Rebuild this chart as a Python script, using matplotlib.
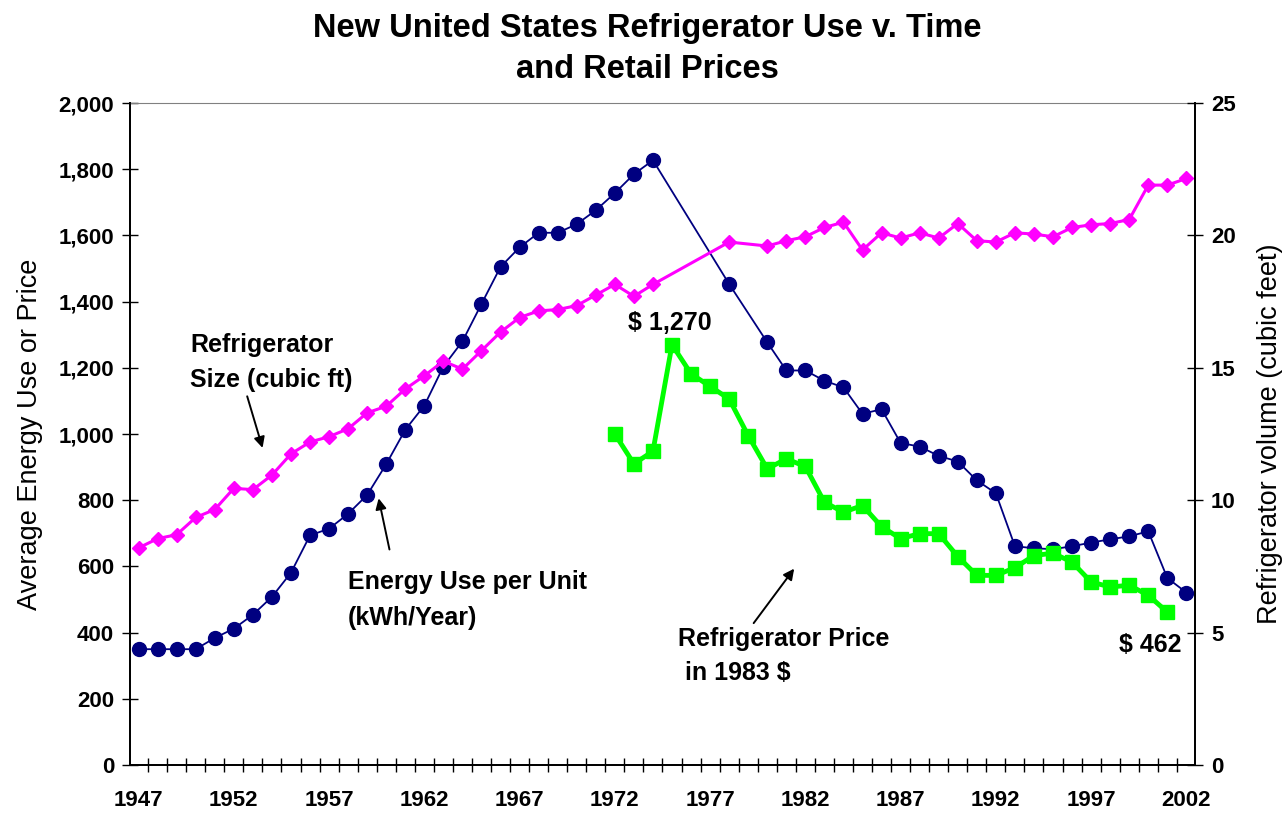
import matplotlib
matplotlib.use('Agg')
import matplotlib.pyplot as plt
from matplotlib.ticker import FuncFormatter, MultipleLocator, FixedLocator

plt.rcParams['font.family'] = ['Liberation Sans', 'DejaVu Sans']

# energy use per unit (kWh/year); 1975-77 and 1979 not reported
energy_years = list(range(1947, 1975)) + [1978] + list(range(1980, 2003))
energy_use = [350, 350, 350, 350, 384, 412, 454, 508, 581, 694,
              714, 759, 816, 909, 1013, 1086, 1204, 1280, 1393, 1505,
              1564, 1608, 1608, 1634, 1676, 1728, 1785, 1827,
              1453,
              1277, 1192, 1192, 1161, 1141, 1061, 1075, 973, 962, 934,
              917, 860, 821, 661, 655, 652, 661, 672, 682, 691,
              706, 565, 521]

# refrigerator volume (cubic feet)
size_years = energy_years
size_cuft = [8.2, 8.55, 8.7, 9.35, 9.65, 10.45, 10.4, 10.95, 11.75, 12.2,
             12.4, 12.7, 13.3, 13.55, 14.2, 14.7, 15.25, 14.95, 15.65, 16.35,
             16.9, 17.15, 17.2, 17.35, 17.75, 18.15, 17.7, 18.15,
             19.75,
             19.6, 19.8, 19.95, 20.3, 20.5, 19.45, 20.1, 19.9, 20.1, 19.9,
             20.45, 19.8, 19.75, 20.1, 20.05, 19.95, 20.3, 20.4, 20.45, 20.6,
             21.9, 21.9, 22.15]

# retail price in 1983 dollars
price_years = list(range(1972, 2002))
price = [1000, 910, 948, 1270, 1182, 1144, 1106, 995, 895, 925,
         902, 794, 764, 784, 720, 684, 699, 699, 630, 573,
         573, 596, 633, 640, 613, 553, 538, 543, 513, 462]

label_years = list(range(1947, 2003, 5))

fig = plt.figure(figsize=(12.82, 8.17), dpi=100)
ax = fig.add_axes([0.1014, 0.0636, 0.8307, 0.8103])
ax2 = ax.twinx()

ax.plot(energy_years, energy_use, color='#000080', lw=1.3, marker='o',
        markersize=10, zorder=3)
ax.plot(price_years, price, color='#00FF00', lw=3.5, marker='s',
        markersize=10.5, zorder=4)
ax2.plot(size_years, size_cuft, color='#FF00FF', lw=2.2, marker='D',
         markersize=7.5)

ax.set_xlim(1946.55, 2002.45)
ax.set_ylim(0, 2000)
ax2.set_ylim(0, 25)

ax.xaxis.set_major_locator(FixedLocator(label_years))
ax.xaxis.set_minor_locator(MultipleLocator(1, offset=0.5))
ax.tick_params(axis='x', which='major', length=0, pad=18,
               labelsize=16)
ax.tick_params(axis='x', which='minor', direction='inout', length=10,
               width=1)
for t in ax.get_xticklabels():
    t.set_fontweight('bold')

ax.yaxis.set_major_locator(MultipleLocator(200))
ax.yaxis.set_major_formatter(FuncFormatter(lambda v, p: f'{int(v):,}'))
ax.tick_params(axis='y', direction='inout', length=11, width=1, pad=6,
               labelsize=16)
for t in ax.get_yticklabels():
    t.set_fontweight('bold')

ax2.yaxis.set_major_locator(MultipleLocator(5))
ax2.tick_params(axis='y', direction='inout', length=11, width=1, pad=6,
                labelsize=16)
for t in ax2.get_yticklabels():
    t.set_fontweight('bold')

for a in (ax, ax2):
    a.spines['left'].set_linewidth(1.3)
    a.spines['right'].set_linewidth(1.3)
    a.spines['bottom'].set_linewidth(1.3)
ax.spines['top'].set_color('#808080')
ax2.spines['top'].set_visible(False)

ax.set_ylabel('Average Energy Use or Price', fontsize=19.5, labelpad=11)
ax2.set_ylabel('Refrigerator volume (cubic feet)', fontsize=19.5,
               labelpad=15)

fig.text(0.505, 1 - 49 / 817, 'New United States Refrigerator Use v. Time\nand Retail Prices',
         ha='center', va='center', fontsize=23.5, fontweight='bold',
         linespacing=1.42)

arrow = dict(arrowstyle='-|>', color='black', lw=1.4, mutation_scale=16)
ax.annotate('', xy=(1953.55, 950), xytext=(1952.66, 1122), arrowprops=arrow)
ax.text(1949.7, 1216, 'Refrigerator\nSize (cubic ft)', ha='left', va='center',
        fontsize=18, fontweight='bold', linespacing=1.6)

ax.annotate('', xy=(1959.57, 814), xytext=(1960.2, 643), arrowprops=arrow)
ax.text(1958.0, 498, 'Energy Use per Unit\n(kWh/Year)', ha='left', va='center',
        fontsize=18, fontweight='bold', linespacing=1.6)

ax.annotate('', xy=(1981.5, 600), xytext=(1979.2, 422), arrowprops=arrow)
ax.text(1975.3, 329, 'Refrigerator Price\n in 1983 $', ha='left', va='center',
        fontsize=18, fontweight='bold', linespacing=1.5)

ax.text(1974.9, 1336, '$ 1,270', ha='center', va='center', fontsize=18,
        fontweight='bold')
ax.text(2000.1, 362, '$ 462', ha='center', va='center', fontsize=18,
        fontweight='bold')

fig.savefig('out.png', dpi=100)
